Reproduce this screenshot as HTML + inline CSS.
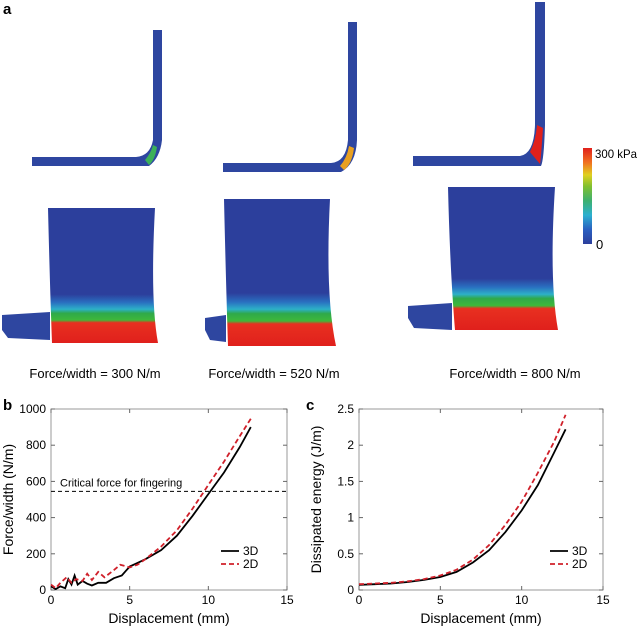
<!DOCTYPE html>
<html><head><meta charset="utf-8"><style>
body{margin:0;background:#fff;font-family:"Liberation Sans",sans-serif}
svg{display:block}
text{font-family:"Liberation Sans",sans-serif}
</style></head><body>
<svg width="638" height="630" viewBox="0 0 638 630">
<defs>
<linearGradient id="wallg" x1="0" y1="0" x2="0" y2="1">
<stop offset="0" stop-color="#2c3f9c"/><stop offset="0.64" stop-color="#2c3f9c"/><stop offset="0.7" stop-color="#2a6fc0"/><stop offset="0.75" stop-color="#2cb0c8"/><stop offset="0.78" stop-color="#2fa94a"/><stop offset="0.83" stop-color="#3fb83a"/><stop offset="0.85" stop-color="#e83020"/><stop offset="1" stop-color="#e0201c"/>
</linearGradient>
<linearGradient id="cbar" x1="0" y1="1" x2="0" y2="0">
<stop offset="0" stop-color="#2c3f9c"/><stop offset="0.15" stop-color="#2a5fc0"/><stop offset="0.3" stop-color="#2cb0d0"/><stop offset="0.45" stop-color="#3db070"/><stop offset="0.6" stop-color="#80c030"/><stop offset="0.72" stop-color="#e0d020"/><stop offset="0.85" stop-color="#f07020"/><stop offset="1" stop-color="#e0201c"/>
</linearGradient>
</defs>
<text x="3" y="14" font-size="15" font-weight="bold">a</text>
<g fill="#2e46a0">
<path d="M32 157 H136 Q150 156 153 140 V30 H162 V140 Q160 158 149 166 H32 Z"/>
<path d="M145 160 Q151 153 153 145 L157 147 Q155 160 149 165 Z" fill="#3cb05a"/>
</g>
<g fill="#2e46a0">
<path d="M223 163 H331 Q346 162 348 140 V22 H357 V140 Q356 164 341 172 H223 Z"/>
<path d="M340 166 Q347 158 349 146 L354 148 Q352 164 344 170 Z" fill="#e8a020"/>
</g>
<g fill="#2e46a0">
<path d="M413 156 H520 Q534 154 535 125 V2 H545 V125 Q544 160 541 166 H413 Z"/>
<path d="M530 152 Q536 140 537 125 L543 128 Q541 158 540 164 Z" fill="#e0201c"/>
</g>
<rect x="583" y="148" width="9" height="96" fill="url(#cbar)"/>
<text x="595" y="158" font-size="12" textLength="42" lengthAdjust="spacingAndGlyphs">300 kPa</text>
<text x="596" y="249" font-size="13">0</text>
<g>
<path d="M2 315 L50 312 L50 340 L8 338 L2 330 Z" fill="#2e46a0"/>
<path d="M48 208 H155 Q150 300 158 343 L52 343 Q50 290 48 208 Z" fill="url(#wallg)"/>
</g>
<g>
<path d="M205 318 L226 315 L226 342 L210 340 L205 330 Z" fill="#2e46a0"/>
<path d="M224 199 H330 Q325 295 336 346 L228 346 Q226 285 224 199 Z" fill="url(#wallg)"/>
</g>
<g>
<path d="M408 306 L452 303 L452 330 L414 328 L408 318 Z" fill="#2e46a0"/>
<path d="M448 187 H555 Q549 280 558 330 L455 330 Q450 270 448 187 Z" fill="url(#wallg)"/>
</g>
<text x="95" y="378" font-size="13" text-anchor="middle">Force/width = 300 N/m</text>
<text x="274" y="378" font-size="13" text-anchor="middle">Force/width = 520 N/m</text>
<text x="515" y="378" font-size="13" text-anchor="middle">Force/width = 800 N/m</text>
<text x="3" y="410" font-size="15" font-weight="bold">b</text>
<text x="306" y="410" font-size="15" font-weight="bold">c</text>
<g id="chartB"></g>
<g id="chartC"></g>
</svg>
<script>
const bX3=[0,0.3,0.6,0.9,1.1,1.3,1.5,1.7,2,2.3,2.6,3,3.5,4,4.5,5,5.5,6,7,8,9,10,11,12,12.7];
const bY3=[20,5,20,10,60,30,80,30,50,35,25,40,40,65,80,130,150,170,220,300,410,530,650,790,900];
const bX2=[0,0.3,0.6,1,1.3,1.6,2,2.3,2.6,3,3.4,4,4.4,5,5.5,6,7,8,9,10,11,12,12.8];
const bY2=[30,10,40,70,40,60,50,90,55,100,70,110,140,125,140,170,240,330,450,580,710,850,960];
const bYTicks=[0,200,400,600,800,1000];
const xTicks=[0,5,10,15];
const criticalForce=545;
const cX=[0,1,2,3,4,5,6,7,8,9,10,11,12,12.7];
const cY3=[0.07,0.08,0.09,0.11,0.14,0.18,0.25,0.38,0.55,0.8,1.1,1.45,1.9,2.22];
const cY2=[0.08,0.09,0.1,0.12,0.15,0.2,0.28,0.42,0.62,0.9,1.22,1.62,2.05,2.42];
const cYTicks=[0,0.5,1,1.5,2,2.5];
const NS="http://www.w3.org/2000/svg";
function mk(parent,tag,attrs){const e=document.createElementNS(NS,tag);for(const k in attrs)e.setAttribute(k,attrs[k]);parent.appendChild(e);return e;}
function chart(g,L,R,T,B,xmax,ymax,yTicks,ylabel,series,legX,extra){
  const sx=v=>L+v/xmax*(R-L), sy=v=>B-v/ymax*(B-T);
  const fr=mk(g,'rect',{x:L,y:T,width:R-L,height:B-T,fill:'none',stroke:'#999','stroke-width':1});
  
  
  xTicks.forEach(t=>{
    mk(g,'line',{x1:sx(t),x2:sx(t),y1:B,y2:B-4,stroke:'#666'});
    mk(g,'line',{x1:sx(t),x2:sx(t),y1:T,y2:T+4,stroke:'#666'});
    const tx=mk(g,'text',{x:sx(t),y:B+14,'font-size':12,'text-anchor':'middle'});tx.textContent=t;
    
    
  });
  yTicks.forEach(t=>{
    mk(g,'line',{x1:L,x2:L+4,y1:sy(t),y2:sy(t),stroke:'#666'});
    mk(g,'line',{x1:R,x2:R-4,y1:sy(t),y2:sy(t),stroke:'#666'});
    const tx=mk(g,'text',{x:L-5,y:sy(t)+4,'font-size':12,'text-anchor':'end'});tx.textContent=t;
    
    
  });
  const xl=mk(g,'text',{x:(L+R)/2,y:B+33,'font-size':14,'text-anchor':'middle'});xl.textContent='Displacement (mm)';
  
  
  const yc=(T+B)/2, yx=L-38;
  const yl=mk(g,'text',{x:yx,y:yc,'font-size':14,'text-anchor':'middle',transform:`rotate(-90 ${yx} ${yc})`});yl.textContent=ylabel;
  
  
  if(extra)extra(sx,sy);
  series.forEach((s,i)=>{
    const d=s.x.map((v,j)=>(j?'L':'M')+sx(v).toFixed(1)+' '+sy(s.y[j]).toFixed(1)).join(' ');
    const p=mk(g,'path',{d,fill:'none',stroke:s.c,'stroke-width':1.8,'stroke-dasharray':s.dash||'none'});
    
    
    const ly=551+i*13;
    const ll=mk(g,'line',{x1:legX,x2:legX+18,y1:ly,y2:ly,stroke:s.c,'stroke-width':1.8,'stroke-dasharray':s.dash||'none'});
    
    
    const lt=mk(g,'text',{x:legX+22,y:ly+4,'font-size':12});lt.textContent=s.n;
    
    
  });
}
chart(document.getElementById('chartB'),51,287,409,590,15,1000,bYTicks,'Force/width (N/m)',
 [{x:bX3,y:bY3,c:'#000',n:'3D'},{x:bX2,y:bY2,c:'#d0202a',dash:'5 3',n:'2D'}],221,
 (sx,sy)=>{
   const cl=mk(document.getElementById('chartB'),'line',{x1:sx(0),x2:sx(15),y1:sy(criticalForce),y2:sy(criticalForce),stroke:'#000','stroke-dasharray':'4 3'});
   
   
   const ct=mk(document.getElementById('chartB'),'text',{x:60,y:sy(criticalForce)-5,'font-size':11});ct.textContent='Critical force for fingering';
   
   
 });
chart(document.getElementById('chartC'),359,603,409,590,15,2.5,cYTicks,'Dissipated energy (J/m)',
 [{x:cX,y:cY3,c:'#000',n:'3D'},{x:cX,y:cY2,c:'#d0202a',dash:'5 3',n:'2D'}],550);
</script>
</body></html>
